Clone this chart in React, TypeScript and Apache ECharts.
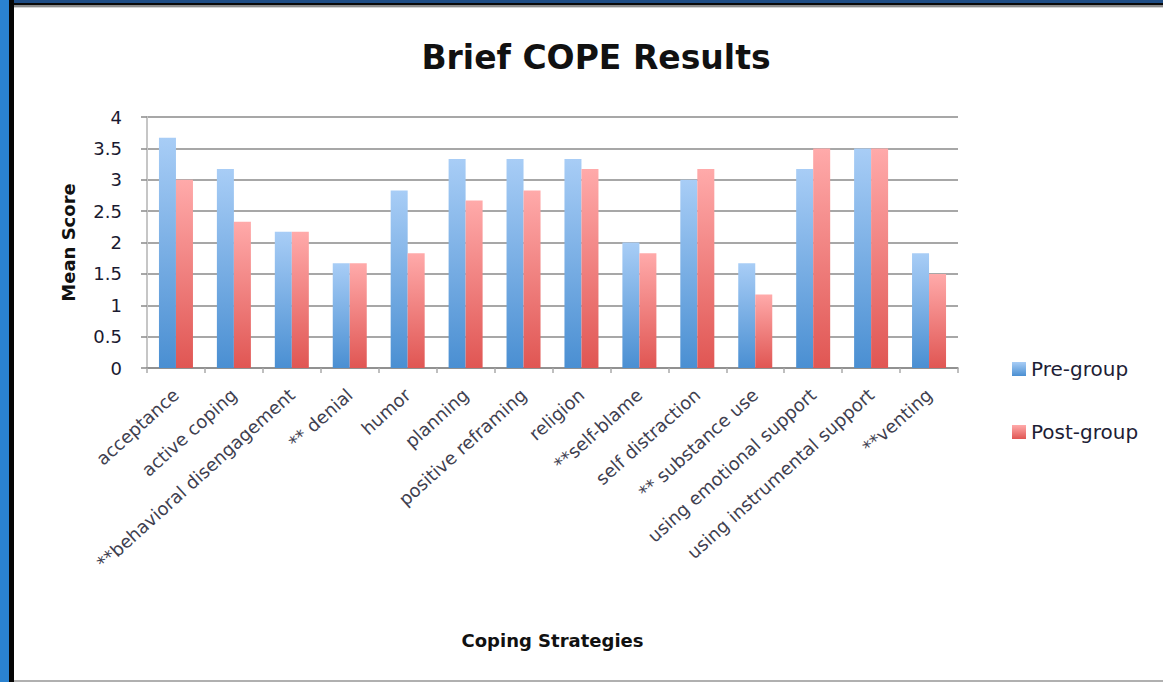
import React, { useEffect, useRef } from "react";
import * as echarts from "echarts";

const categories = [
  "acceptance",
  "active coping",
  "**behavioral disengagement",
  "** denial",
  "humor",
  "planning",
  "positive reframing",
  "religion",
  "**self-blame",
  "self distraction",
  "** substance use",
  "using emotional support",
  "using instrumental support",
  "**venting",
];
const preGroup = [3.67, 3.17, 2.17, 1.67, 2.83, 3.33, 3.33, 3.33, 2.0, 3.0, 1.67, 3.17, 3.5, 1.83];
const postGroup = [3.0, 2.33, 2.17, 1.67, 1.83, 2.67, 2.83, 3.17, 1.83, 3.17, 1.17, 3.5, 3.5, 1.5];
const seriesNames = ["Pre-group", "Post-group"];
const chartTitle = "Brief COPE Results";
const yName = "Mean Score";
const xName = "Coping Strategies";
const yMin = 0;
const yMax = 4;
const yStep = 0.5;

const FONT = "'DejaVu Sans', 'Liberation Sans', sans-serif";

export default function App() {
  const ref = useRef<HTMLDivElement>(null);
  useEffect(() => {
    if (!ref.current) return;
    const chart = echarts.init(ref.current, null, { renderer: "svg" });
    const grad = (top: string, bottom: string) =>
      new echarts.graphic.LinearGradient(0, 0, 0, 1, [
        { offset: 0, color: top },
        { offset: 1, color: bottom },
      ]);
    chart.setOption({
      animation: false,
      backgroundColor: "transparent",
      textStyle: { fontFamily: FONT },
      graphic: [
        {
          type: "text",
          x: 596,
          y: 57,
          style: {
            text: chartTitle,
            fontFamily: FONT,
            fontSize: 33,
            fontWeight: "bold",
            fill: "#111",
            align: "center",
            verticalAlign: "middle",
          },
        },
      ],
      legend: {
        data: seriesNames,
        orient: "vertical",
        left: 1007,
        top: 354,
        itemWidth: 14,
        itemHeight: 14,
        itemGap: 43,
        icon: "rect",
        textStyle: { fontFamily: FONT, fontSize: 20, color: "#1d1d35", lineHeight: 20 },
      },
      grid: { left: 147, right: 205, top: 117, bottom: 314 },
      xAxis: {
        type: "category",
        data: categories,
        boundaryGap: true,
        name: xName,
        nameLocation: "middle",
        nameGap: 263,
        nameTextStyle: { fontFamily: FONT, fontSize: 18, fontWeight: "bold", color: "#111" },
        axisLine: { show: true, lineStyle: { color: "#8a8a8a", width: 1.5 } },
        axisTick: { show: true, length: 5, lineStyle: { color: "#aaaaaa", width: 1.5 } },
        axisLabel: {
          interval: 0,
          rotate: 42,
          margin: 24,
          fontFamily: FONT,
          fontSize: 18,
          color: "#40404f",
        },
      },
      yAxis: {
        type: "value",
        min: yMin,
        max: yMax,
        interval: yStep,
        name: yName,
        nameLocation: "middle",
        nameGap: 70,
        nameTextStyle: { fontFamily: FONT, fontSize: 18, fontWeight: "bold", color: "#111" },
        axisLine: { show: true, lineStyle: { color: "#c6c6c6", width: 2 } },
        axisTick: { show: true, length: 6, lineStyle: { color: "#8a8a8a", width: 1.5 } },
        axisLabel: { margin: 25, fontFamily: FONT, fontSize: 18, color: "#1a1a30" },
        splitLine: { show: true, lineStyle: { color: "#8a8a8a", width: 1.5 } },
      },
      series: [
        {
          name: seriesNames[0],
          type: "bar",
          data: preGroup,
          barWidth: 17,
          barGap: "0%",
          itemStyle: { color: grad("#a8cdf6", "#4a8fd2") },
        },
        {
          name: seriesNames[1],
          type: "bar",
          data: postGroup,
          barWidth: 17,
          barGap: "0%",
          itemStyle: { color: grad("#ffaaaa", "#e05653") },
        },
      ],
    });
    return () => chart.dispose();
  }, []);

  return (
    <div
      style={{
        position: "absolute",
        left: 0,
        top: 0,
        width: 1163,
        height: 682,
        background: "#fff",
        overflow: "hidden",
      }}
    >
      <div style={{ position: "absolute", left: 0, top: 0, width: 1163, height: 3, background: "#1f4d85" }} />
      <div style={{ position: "absolute", left: 0, top: 3, width: 1163, height: 2, background: "#0a0a0a" }} />
      <div style={{ position: "absolute", left: 0, top: 5, width: 1163, height: 2, background: "#8c8c8c" }} />
      <div style={{ position: "absolute", left: 0, top: 7, width: 1163, height: 1, background: "#d4d4d4" }} />
      <div style={{ position: "absolute", left: 0, top: 0, width: 9, height: 682, background: "#2a82d0" }} />
      <div style={{ position: "absolute", left: 9, top: 0, width: 5, height: 682, background: "#050505" }} />
      <div style={{ position: "absolute", left: 0, top: 680, width: 1163, height: 2, background: "#b0b0b0" }} />
      <div style={{ position: "absolute", left: 0, top: 680, width: 9, height: 2, background: "#2a82d0" }} />
      <div style={{ position: "absolute", left: 9, top: 680, width: 5, height: 2, background: "#050505" }} />
      <div ref={ref} style={{ position: "absolute", left: 0, top: 0, width: 1163, height: 682 }} />
    </div>
  );
}
